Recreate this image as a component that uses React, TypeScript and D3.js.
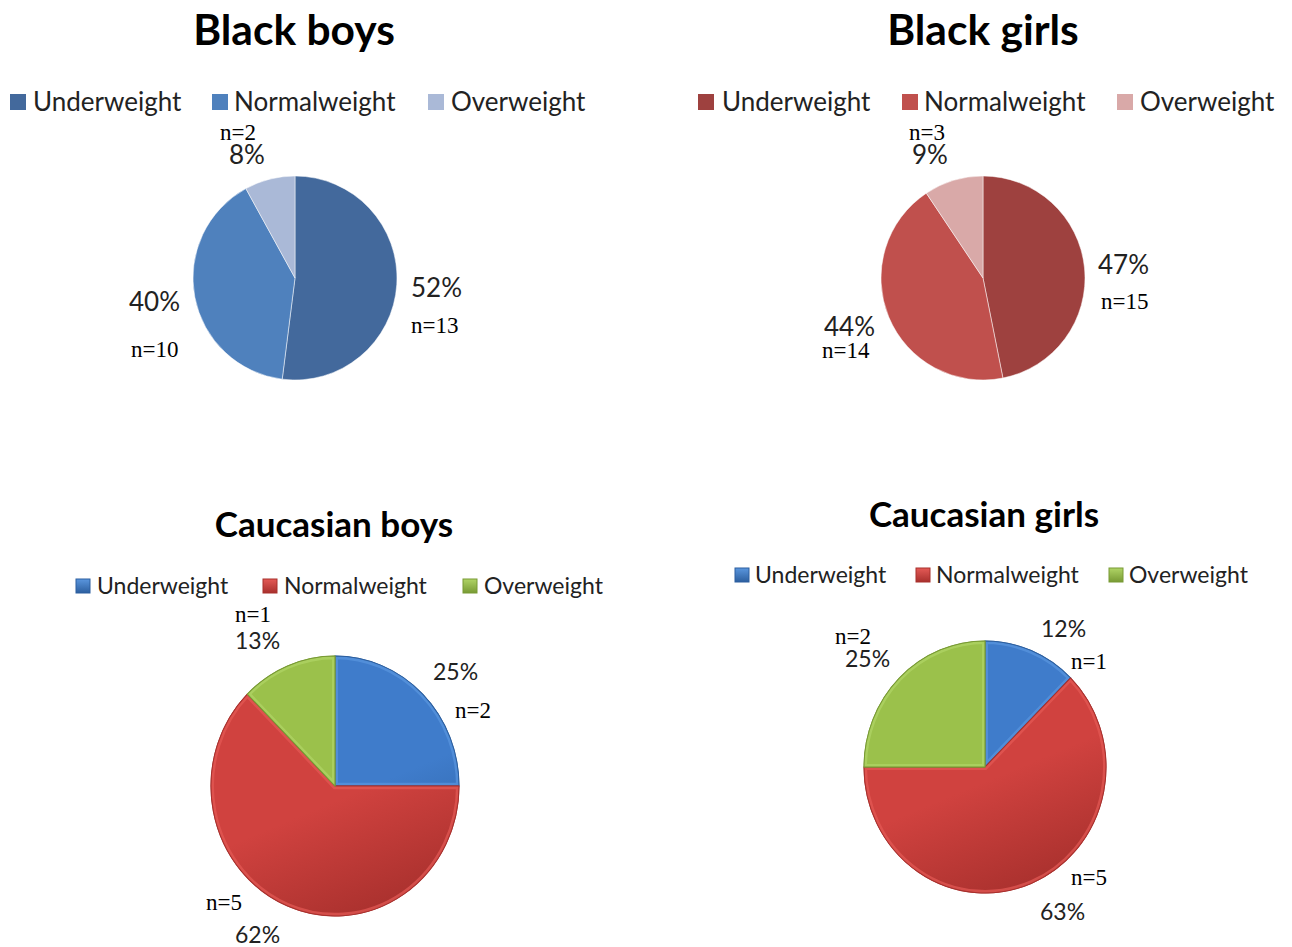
import React from "react";
import * as d3 from "d3";

// ---------- data ----------
const categories = ["Underweight", "Normalweight", "Overweight"];

const blackBoysCounts = [13, 10, 2];
const blackBoysPct = [52, 40, 8];

const blackGirlsCounts = [15, 14, 3];
const blackGirlsPct = [47, 44, 9];

const caucBoysCounts = [2, 5, 1];
const caucBoysPct = [25, 62, 13];

const caucGirlsCounts = [1, 5, 2];
const caucGirlsPct = [12, 63, 25];

const chartTitles = ["Black boys", "Black girls", "Caucasian boys", "Caucasian girls"];

// ---------- styles ----------
const blueFlat = ["#43699C", "#4F81BD", "#AAB9D7"];
const redFlat = ["#9E413F", "#C0504D", "#D9A9A8"];
const office3D = [
  { light: "#5A96DE", base: "#3F7CCB", dark: "#2C5F9F" },
  { light: "#E45A56", base: "#D0423F", dark: "#A8302D" },
  { light: "#B0D466", base: "#9BC14B", dark: "#789A34" },
];

type LabelPos = { px: number; py: number; nx: number; ny: number };

type Layout = {
  title: { x: number; y: number; size: number };
  legend: { xs: number[]; textXs: number[]; y: number; box: number; size: number };
  pie: { cx: number; cy: number; rx: number; ry: number };
  pctSize: number;
  nSize: number;
  labels: LabelPos[];
};

const layouts: Layout[] = [
  {
    title: { x: 294, y: 45, size: 42.5 },
    legend: { xs: [10, 212, 428], textXs: [33, 234, 451], y: 102, box: 16, size: 26 },
    pie: { cx: 295, cy: 278, rx: 102, ry: 102 },
    pctSize: 26,
    nSize: 23,
    labels: [
      { px: 411, py: 297, nx: 411, ny: 333 },
      { px: 129, py: 311, nx: 131, ny: 357 },
      { px: 229, py: 164, nx: 220, ny: 140 },
    ],
  },
  {
    title: { x: 983, y: 45, size: 42.5 },
    legend: { xs: [698, 902, 1117], textXs: [722, 924, 1140], y: 102, box: 16, size: 26 },
    pie: { cx: 983, cy: 278, rx: 102, ry: 102 },
    pctSize: 26,
    nSize: 23,
    labels: [
      { px: 1098, py: 274, nx: 1101, ny: 309 },
      { px: 824, py: 336, nx: 822, ny: 358 },
      { px: 912, py: 164, nx: 909, ny: 140 },
    ],
  },
  {
    title: { x: 334, y: 537, size: 35 },
    legend: { xs: [76, 263, 463], textXs: [97, 284, 484], y: 586, box: 14, size: 23 },
    pie: { cx: 335, cy: 786, rx: 124, ry: 130 },
    pctSize: 23,
    nSize: 23,
    labels: [
      { px: 433, py: 680, nx: 455, ny: 718 },
      { px: 235, py: 943, nx: 206, ny: 910 },
      { px: 235, py: 649, nx: 235, ny: 622 },
    ],
  },
  {
    title: { x: 984, y: 527, size: 35 },
    legend: { xs: [735, 916, 1109], textXs: [755, 936, 1129], y: 575, box: 14, size: 23 },
    pie: { cx: 985, cy: 767, rx: 121, ry: 126 },
    pctSize: 23,
    nSize: 23,
    labels: [
      { px: 1041, py: 637, nx: 1071, ny: 669 },
      { px: 1040, py: 920, nx: 1071, ny: 885 },
      { px: 845, py: 667, nx: 835, ny: 644 },
    ],
  },
];

const SANS = "Lato, 'Open Sans', sans-serif";
const SERIF = "'Liberation Serif', 'Times New Roman', serif";

type PieProps = {
  id: string;
  title: string;
  counts: number[];
  pcts: number[];
  layout: Layout;
  flatColors?: string[];
  bevel?: boolean;
};

function PieChart({ id, title, counts, pcts, layout, flatColors, bevel }: PieProps) {
  const pie = d3.pie<number>().sort(null).value((d) => d);
  const arcs = pie(counts);
  const r = layout.pie.rx;
  const sy = layout.pie.ry / layout.pie.rx;
  const arcGen = d3.arc<d3.PieArcDatum<number>>().innerRadius(0).outerRadius(r);

  const fillFor = (i: number) =>
    bevel ? `url(#${id}-grad-${i})` : (flatColors as string[])[i];

  return (
    <g>
      <defs>
        {bevel &&
          office3D.map((c, i) => (
            <React.Fragment key={i}>
              <linearGradient
                id={`${id}-grad-${i}`}
                gradientUnits="userSpaceOnUse"
                x1={-r * 0.4}
                y1={-r}
                x2={r * 0.4}
                y2={r}
              >
                <stop offset="0%" stopColor={c.base} />
                <stop offset="55%" stopColor={c.base} />
                <stop offset="100%" stopColor={c.dark} />
              </linearGradient>
              <linearGradient id={`${id}-lg-${i}`} x1="0" y1="0" x2="0" y2="1">
                <stop offset="0%" stopColor={c.light} />
                <stop offset="100%" stopColor={c.dark} />
              </linearGradient>
            </React.Fragment>
          ))}
        {bevel &&
          arcs.map((a, i) => (
            <clipPath id={`${id}-clip-${i}`} key={i}>
              <path d={arcGen(a) as string} />
            </clipPath>
          ))}
      </defs>

      <text
        x={layout.title.x}
        y={layout.title.y}
        textAnchor="middle"
        fontFamily={SANS}
        fontWeight={700}
        fontSize={layout.title.size}
        fill="#000"
      >
        {title}
      </text>

      {categories.map((cat, i) => (
        <g key={cat}>
          <rect
            x={layout.legend.xs[i]}
            y={layout.legend.y - layout.legend.box / 2}
            width={layout.legend.box}
            height={layout.legend.box}
            fill={bevel ? `url(#${id}-lg-${i})` : (flatColors as string[])[i]}
            stroke={bevel ? office3D[i].dark : "none"}
            strokeWidth={bevel ? 1 : 0}
          />
          <text
            x={layout.legend.textXs[i]}
            y={layout.legend.y}
            dy="0.35em"
            fontFamily={SANS}
            fontSize={layout.legend.size}
            fill="#222"
          >
            {cat}
          </text>
        </g>
      ))}

      <g transform={`translate(${layout.pie.cx},${layout.pie.cy}) scale(1,${sy})`}>
        {arcs.map((a, i) => (
          <g key={i}>
            <path
              d={arcGen(a) as string}
              fill={fillFor(i)}
              stroke={bevel ? office3D[i].dark : "#fff"}
              strokeWidth={bevel ? 0.8 : 0.5}
            />
            {bevel && (
              <path
                d={arcGen(a) as string}
                fill="none"
                stroke={office3D[i].light}
                strokeOpacity={0.7}
                strokeWidth={6}
                clipPath={`url(#${id}-clip-${i})`}
              />
            )}
            {bevel && (
              <path
                d={arcGen(a) as string}
                fill="none"
                stroke={office3D[i].dark}
                strokeWidth={1}
              />
            )}
          </g>
        ))}
      </g>

      {arcs.map((a, i) => (
        <g key={`lbl-${i}`}>
          <text
            x={layout.labels[i].px}
            y={layout.labels[i].py}
            fontFamily={SANS}
            fontSize={layout.pctSize}
            fill="#222"
          >
            {`${pcts[i]}%`}
          </text>
          <text
            x={layout.labels[i].nx}
            y={layout.labels[i].ny}
            fontFamily={SERIF}
            fontSize={layout.nSize}
            fill="#000"
          >
            {`n=${a.data}`}
          </text>
        </g>
      ))}
    </g>
  );
}

export default function App() {
  return (
    <svg
      width={1292}
      height={947}
      style={{ position: "absolute", left: 0, top: 0, background: "#fff" }}
    >
      <rect width={1292} height={947} fill="#fff" />
      <PieChart
        id="bb"
        title={chartTitles[0]}
        counts={blackBoysCounts}
        pcts={blackBoysPct}
        layout={layouts[0]}
        flatColors={blueFlat}
      />
      <PieChart
        id="bg"
        title={chartTitles[1]}
        counts={blackGirlsCounts}
        pcts={blackGirlsPct}
        layout={layouts[1]}
        flatColors={redFlat}
      />
      <PieChart
        id="cb"
        title={chartTitles[2]}
        counts={caucBoysCounts}
        pcts={caucBoysPct}
        layout={layouts[2]}
        bevel
      />
      <PieChart
        id="cg"
        title={chartTitles[3]}
        counts={caucGirlsCounts}
        pcts={caucGirlsPct}
        layout={layouts[3]}
        bevel
      />
    </svg>
  );
}
